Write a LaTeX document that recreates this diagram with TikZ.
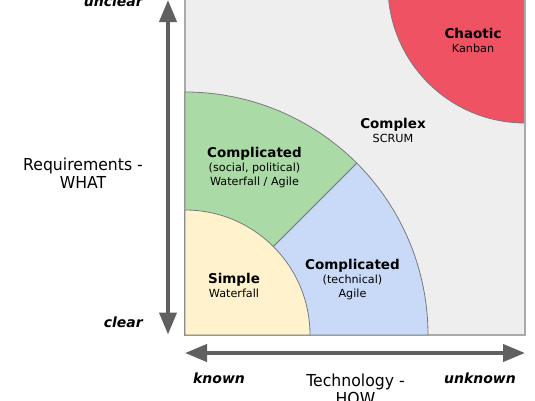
\documentclass[tikz,border=0pt]{standalone}
\usepackage{fontspec}
\setmainfont{DejaVu Sans}
\newfontfamily\axisfont[FakeStretch=0.95]{DejaVu Sans}
\usetikzlibrary{arrows.meta}
\definecolor{bggray}{HTML}{EEEEEE}
\definecolor{framegray}{HTML}{AAAAAA}
\definecolor{edgegray}{HTML}{7A7A7A}
\definecolor{simplefill}{HTML}{FFF2CC}
\definecolor{socialfill}{HTML}{AADBA6}
\definecolor{techfill}{HTML}{C9DAF8}
\definecolor{chaosfill}{HTML}{EF5263}
\definecolor{axisgray}{HTML}{606060}
\newcommand{\rtitle}[1]{{\fontsize{13.5bp}{14bp}\selectfont\bfseries #1}}
\begin{document}
\begin{tikzpicture}[x=1bp,y=1bp,
  region/.style={draw=edgegray, line width=0.8bp},
  axisline/.style={draw=axisgray, line width=4bp,
    {Triangle[length=22bp,width=17bp]}-{Triangle[length=22bp,width=17bp]}},
  lbl/.style={align=center, anchor=base, inner sep=0pt,
    font=\fontsize{11.2bp}{14bp}\selectfont},
  axislbl/.style={align=center, anchor=base, inner sep=0pt,
    font=\axisfont\fontsize{16.5bp}{18bp}\selectfont},
  endlbl/.style={inner sep=0pt,
    font=\fontsize{14bp}{16bp}\selectfont\bfseries\itshape}]
\useasboundingbox (0,0) rectangle (535,400);
\clip (0,0) rectangle (535,400);
% background field
\fill[bggray] (185,65) rectangle (525,420);
\begin{scope}
  \clip (185,65) rectangle (525,420);
  \filldraw[region, fill=chaosfill] (525,414) circle[radius=137];
\end{scope}
\draw[framegray, line width=1.5bp] (185,65) rectangle (525,420);
% quarter regions
\filldraw[region, fill=socialfill] (185,65) -- (185,308)
  arc[start angle=90, end angle=45, radius=243] -- cycle;
\filldraw[region, fill=techfill] (185,65) -- (428,65)
  arc[start angle=0, end angle=45, radius=243] -- cycle;
\filldraw[region, fill=simplefill] (185,65) -- (310,65)
  arc[start angle=0, end angle=90, radius=125] -- cycle;
% axes
\coordinate (vbot) at (168,65.5);
\coordinate (vtop) at (168,400);
\coordinate (hleft) at (185,47);
\coordinate (hright) at (525,47);
\draw[axisline] (vbot) -- (vtop);
\draw[axisline] (hleft) -- (hright);
% region labels (anchor = baseline of last line)
\node[lbl] (simple) at (234,103) {\rtitle{Simple}\\Waterfall};
\node[lbl] (tech) at (352.5,103) {\rtitle{Complicated}\\(technical)\\Agile};
\node[lbl] (social) at (254.5,215) {\rtitle{Complicated}\\(social, political)\\Waterfall / Agile};
\node[lbl] (complex) at (393,258) {\rtitle{Complex}\\SCRUM};
\node[lbl] (chaotic) at (473,347.5) {\rtitle{Chaotic}\\Kanban};
% axis labels
\node[axislbl] (req) at (83,212) {Requirements -\\WHAT};
\node[axislbl] (techn) at (355.5,-4) {Technology -\\HOW};
\node[endlbl, anchor=base east] (unclear) at (143,393) {unclear};
\node[endlbl, anchor=base east] (clear) at (143,72.3) {clear};
\node[endlbl, anchor=base] (known) at (219,17) {known};
\node[endlbl, anchor=base] (unknown) at (480,17) {unknown};
\end{tikzpicture}
\end{document}
